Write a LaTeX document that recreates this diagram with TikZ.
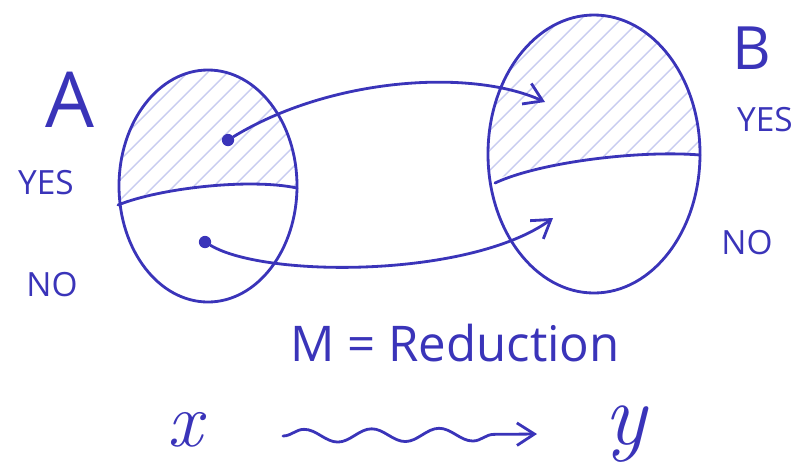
\documentclass[tikz,border=0pt]{standalone}
\usepackage{fontspec}
\setsansfont{Open Sans}
\usetikzlibrary{arrows.meta, positioning, decorations.pathmorphing}
\definecolor{ink}{RGB}{58,52,185}
\definecolor{hatch}{RGB}{200,204,240}

% outlines of the two sets
\newcommand\setAoutline{(208,186) ellipse [x radius=89, y radius=116]}
\newcommand\setBoutline{(594,154) ellipse [x radius=106, y radius=139]}

\begin{document}
\begin{tikzpicture}[x=0.02cm, y=-0.02cm,
    inkline/.style={draw=ink, line width=1.6pt, line cap=round, line join=round},
    hatchline/.style={draw=hatch, line width=0.8pt},
    tip/.style={-{Straight Barb[length=3.5mm, width=4.5mm, line width=1.6pt]}},
    dot/.style={circle, fill=ink, inner sep=0pt, minimum size=7pt},
    setname/.style={text=ink, font=\sffamily\fontsize{44}{44}\selectfont},
    answer/.style={text=ink, font=\sffamily\fontsize{19}{19}\selectfont},
    var/.style={text=ink, inner sep=1pt, font=\rmfamily\itshape\fontsize{44}{44}\selectfont}]
  \useasboundingbox (0,0) rectangle (807,474);

  % hatched YES parts
  \begin{scope}
    \clip \setAoutline;
    \clip (100,205) .. controls (160,188) and (250,178) .. (310,188)
      -- (310,40) -- (100,40) -- cycle;
    \foreach \k in {-200,-180,...,320}
      \draw[hatchline] (\k,260) -- ++(220,-220);
  \end{scope}
  \begin{scope}
    \clip \setBoutline;
    \clip (480,185) .. controls (540,160) and (640,148) .. (710,155)
      -- (710,0) -- (480,0) -- cycle;
    \foreach \k in {280,300,...,720}
      \draw[hatchline] (\k,240) -- ++(240,-240);
  \end{scope}

  % sets A and B
  \draw[inkline] \setAoutline;
  \draw[inkline] (118,205) .. controls (160,188) and (250,178) .. (297,188);
  \draw[inkline] \setBoutline;
  \draw[inkline] (495,183) .. controls (540,162) and (640,150) .. (700,155);

  \node[setname] (nameA) at (70,100) {A};
  \node[setname, font=\sffamily\fontsize{34}{34}\selectfont] (nameB) at (752,48) {B};
  \node[answer] (yesA) at (46,183) {YES};
  \node[answer] (noA) at (52,285) {NO};
  \node[answer] (yesB) at (765,120) {YES};
  \node[answer] (noB) at (747,243) {NO};

  % the map M
  \node[dot] (a1) at (228,140) {};
  \node[dot] (a2) at (205,242) {};
  \coordinate (b1) at (545,102);
  \coordinate (b2) at (553,218);
  \draw[inkline, tip] (a1) .. controls (330,78) and (470,68) .. (b1);
  \draw[inkline, tip] (a2) .. controls (265,278) and (470,278) .. (b2);

  \node[answer, font=\sffamily\fontsize{28}{28}\selectfont] (mred) at (455,343)
    {M = Reduction};

  \node[var] (vx) at (185,430) {x};
  \node[var, font=\rmfamily\itshape\fontsize{50}{50}\selectfont] (vy) at (625,434) {y};
  \coordinate (wstart) at (283,436);
  \coordinate (wend) at (537,434);
  \draw[inkline, tip, decorate, decoration={snake, amplitude=0.13cm,
      segment length=1.35cm, post length=0.8cm}] (wstart) -- (wend);
\end{tikzpicture}
\end{document}
